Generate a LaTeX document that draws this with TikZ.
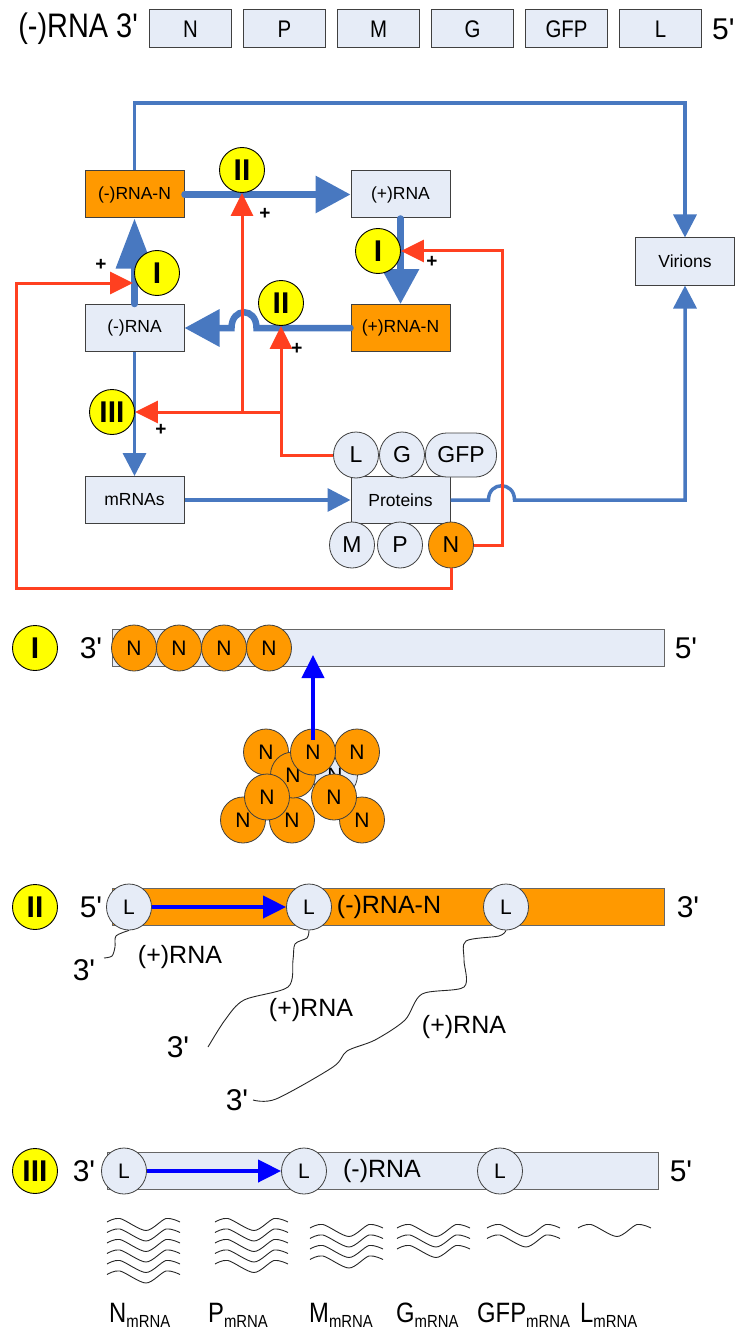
\documentclass[tikz,border=0pt]{standalone}
\usepackage{fontspec}
\setmainfont{Liberation Sans}
\newfontfamily\narrowfont[FakeStretch=0.85]{Liberation Sans}
\usepackage{tikz}
\usetikzlibrary{arrows.meta,positioning,shapes.geometric}
\definecolor{paleBlue}{RGB}{230,236,247}
\definecolor{nOrange}{RGB}{255,153,0}
\definecolor{markYellow}{RGB}{255,255,0}
\definecolor{flowBlue}{RGB}{72,120,192}
\definecolor{regRed}{RGB}{255,64,32}
\newcommand{\prm}{\textquotesingle}
\pgfdeclarelayer{front}
\pgfsetlayers{main,front}
\tikzset{
  genebox/.style={rectangle, draw=black!75, fill=paleBlue, line width=1pt, minimum width=82pt, minimum height=38pt, inner sep=0pt, font=\narrowfont\fontsize{24}{26}\selectfont},
  flowbox/.style={rectangle, draw=black!75, fill=paleBlue, line width=1pt, minimum width=99pt, minimum height=47pt, inner sep=0pt, font=\fontsize{17.5}{20}\selectfont},
  nbox/.style={flowbox, fill=nOrange},
  stagemark/.style={ellipse, draw=black, fill=markYellow, line width=0.9pt, minimum width=45pt, minimum height=45pt, inner sep=0pt, font=\fontsize{30}{30}\selectfont\bfseries},
  prot/.style={ellipse, draw=black!75, fill=paleBlue, line width=0.8pt, minimum width=45pt, minimum height=46pt, inner sep=0pt, font=\fontsize{23}{26}\selectfont},
  nprot/.style={prot, fill=nOrange},
  sectfont/.style={font=\fontsize{21}{24}\selectfont},
  strand/.style={rectangle, draw=black!60, line width=1pt, minimum height=37pt, inner sep=0pt},
  endlabel/.style={inner sep=0pt, font=\fontsize{30}{32}\selectfont},
  midlabel/.style={inner sep=0pt, font=\fontsize{25}{28}\selectfont},
  plusmark/.style={inner sep=0pt, font=\fontsize{19}{19}\selectfont\bfseries},
  thickarrow/.style={line width=6.5pt, draw=flowBlue, line cap=round, -{Triangle[length=35pt,width=36pt]}},
  thinarrow/.style={line width=3.5pt, draw=flowBlue, -{Triangle[length=23pt,width=23pt]}},
  redarrow/.style={line width=3pt, draw=regRed, -{Triangle[length=23pt,width=22pt]}},
  bluearrow/.style={line width=4pt, draw=blue, -{Triangle[length=23pt,width=22pt]}},
  strandline/.style={draw=black!85, line width=0.9pt},
  wave/.style={draw=black!85, line width=0.9pt}
}
\begin{document}
\begin{tikzpicture}[x=1pt, y=-1pt, node distance=11pt]
  \useasboundingbox (0,0) rectangle (735,1332);
  % genome
  \node[genebox] (gN) at (190.5,29) {N};
  \node[genebox, right=of gN] (gP) {P};
  \node[genebox, right=of gP] (gM) {M};
  \node[genebox, right=of gM] (gG) {G};
  \node[genebox, right=of gG] (gGFP) {GFP};
  \node[genebox, right=of gGFP] (gL) {L};
  \node[endlabel, font=\narrowfont\fontsize{34}{36}\selectfont, left=10pt of gN] (genome) {(-)RNA 3\prm};
  \node[endlabel, right=10pt of gL] (gFive) {5\prm};

  % life cycle
  \node[nbox] (rnaN) at (134.5,194.5) {(-)RNA-N};
  \node[flowbox] (rnaplus) at (400.5,194.5) {(+)RNA};
  \node[flowbox] (virions) at (685,261.5) {Virions};
  \node[flowbox] (rnaminus) at (134.5,328) {(-)RNA};
  \node[nbox] (rnaplusN) at (400.5,328) {(+)RNA-N};
  \node[flowbox] (mrnas) at (134.5,500) {mRNAs};
  \node[flowbox] (proteins) at (400.5,500) {Proteins};
  \node[prot] (pL) at (356,455) {L};
  \node[prot] (pG) at (402,455) {G};
  \node[prot, rectangle, rounded corners=21pt, minimum width=71pt, minimum height=44pt] (pGFP) at (461,455) {GFP};
  \node[prot] (pM) at (352,545) {M};
  \node[prot] (pP) at (400,545) {P};
  \node[nprot] (pN) at (451,545) {N};

  \begin{pgfonlayer}{front}
    \node[stagemark] (stIIa) at (242,170) {II};
    \node[stagemark] (stIa) at (157,273) {I};
    \node[stagemark] (stIb) at (378,251) {I};
    \node[stagemark] (stIIb) at (281,303) {II};
    \node[stagemark] (stIIIa) at (112,412) {III};
    \node[plusmark] (plusA) at (265,214) {+};
    \node[plusmark] (plusB) at (101,265) {+};
    \node[plusmark] (plusC) at (432,262) {+};
    \node[plusmark] (plusD) at (297,349) {+};
    \node[plusmark] (plusE) at (161,430) {+};
  \end{pgfonlayer}

  \coordinate (topturn) at (685,103);
  \coordinate (leftfeed) at (133,283);
  \coordinate (redleft) at (16,588);
  \coordinate (redright) at (502,251);
  \coordinate (redhub) at (281,412);

  \draw[thinarrow] (rnaN.north) |- (topturn) -- (virions.north);
  \draw[thinarrow] (rnaminus.south) -- (mrnas.north);
  \draw[thinarrow] (mrnas) -- (proteins);
  \draw[thinarrow] (proteins.east) -- ++(38,0) .. controls +(0,-19) and +(0,-19) .. ++(26,0) -| (virions.south);
  \draw[thickarrow] (rnaN) -- (rnaplus);
  \draw[thickarrow, -{Triangle[length=50pt,width=36pt]}] (rnaminus.north) -- (rnaN.south);
  \draw[thickarrow] (rnaplus) -- (rnaplusN);
  \draw[thickarrow] (rnaplusN.west) -- ++(-94,0) .. controls +(0,-21) and +(0,-21) .. ++(-25,0) -- (rnaminus.east);
  \draw[redarrow] (pN.east) -| (redright) -- (stIb.east);
  \draw[redarrow] (pN.south) |- (redleft) |- (leftfeed);
  \draw[redarrow] (pL.west) -| (stIIb.south);
  \draw[redarrow] (redhub) -- (stIIIa.east);
  \draw[redarrow] (stIIa.south |- redhub) -- (stIIa.south);

  % I: encapsidation
  \node[stagemark] (stI) at (35,648) {I};
  \node[endlabel] (iThree) at (91,648) {3\prm};
  \node[strand, fill=paleBlue, minimum width=552pt] (barI) at (388,648) {};
  \node[endlabel] (iFive) at (686,648) {5\prm};
  \foreach \k in {0,...,3}
    \node[nprot, sectfont] (nI\k) at (134+45*\k,648) {N};
  \node[prot, sectfont] (nc0) at (335,775) {N};
  \foreach \cx/\cy [count=\k] in {243/820, 292/820, 362/820, 266/752, 357/752, 293/775, 313/752, 267/797, 334/797}
    \node[nprot, sectfont] (nc\k) at (\cx,\cy) {N};
  \coordinate (bindsite) at (313,655);
  \draw[bluearrow] ([yshift=12pt]nc7.center) -- (bindsite);

  % II: transcription of (+)RNA
  \node[stagemark] (stII) at (35,907) {II};
  \node[endlabel] (iiFive) at (91,907) {5\prm};
  \node[strand, fill=nOrange, minimum width=552pt] (barII) at (388,907) {};
  \node[midlabel] (iiLab) at (389,907) {(-)RNA-N};
  \node[endlabel] (iiThree) at (688,907) {3\prm};
  \node[prot, sectfont] (Lii1) at (129,907) {L};
  \node[prot, sectfont] (Lii2) at (309,907) {L};
  \node[prot, sectfont] (Lii3) at (506,907) {L};
  \draw[bluearrow] (Lii1) -- (Lii2);
  \draw[strandline] plot[smooth] coordinates {(Lii1.south) (116,936) (115,947) (112,956) (104,958)};
  \draw[strandline] plot[smooth] coordinates {(Lii2.south) (307,938) (295,944) (293,960) (288,987) (244,1000) (225,1020) (208,1047)};
  \draw[strandline] plot[smooth] coordinates {(Lii3.south) (499,936) (466,941) (464,960) (464,987) (422,994) (405,1020) (375,1040) (347,1051) (333,1067) (276,1099) (253,1100)};
  \node[endlabel] (tail1) at (84,970) {3\prm};
  \node[endlabel] (tail2) at (178,1047) {3\prm};
  \node[endlabel] (tail3) at (237,1100) {3\prm};
  \node[midlabel] (plus1) at (180,957) {(+)RNA};
  \node[midlabel] (plus2) at (311,1010) {(+)RNA};
  \node[midlabel] (plus3) at (464,1027) {(+)RNA};

  % III: transcription of mRNAs
  \node[stagemark] (stIII) at (35,1171) {III};
  \node[endlabel] (iiiThree) at (84,1171) {3\prm};
  \node[strand, fill=paleBlue, minimum width=551pt] (barIII) at (382.5,1171) {};
  \node[midlabel] (iiiLab) at (382,1171) {(-)RNA};
  \node[endlabel] (iiiFive) at (681,1171) {5\prm};
  \node[prot, sectfont] (Liii1) at (124,1171) {L};
  \node[prot, sectfont] (Liii2) at (304,1171) {L};
  \node[prot, sectfont] (Liii3) at (500,1171) {L};
  \draw[bluearrow] (Liii1) -- (Liii2);
  \foreach \gx/\gy/\gn in {107/1222/6, 215/1222/5, 310/1228/4, 397/1228/3, 487/1228/2, 578/1228/1}
    \foreach \k in {1,...,\gn}
      \draw[wave, shift={(\gx,{\gy+10.5*(\k-1)})}] plot[smooth] coordinates {(0,0) (13,-3.5) (39,8.5) (59,-3.5) (73,0)};
  \foreach \lx/\gene in {109/N, 208/P, 309/M, 396/G, 477/GFP, 580/L}
    \node[anchor=base west, inner sep=0pt, font=\narrowfont\fontsize{28}{30}\selectfont] (lab\gene) at (\lx,1322) {\gene\raisebox{-5pt}{\fontsize{17.5}{18}\selectfont mRNA}};
\end{tikzpicture}
\end{document}
